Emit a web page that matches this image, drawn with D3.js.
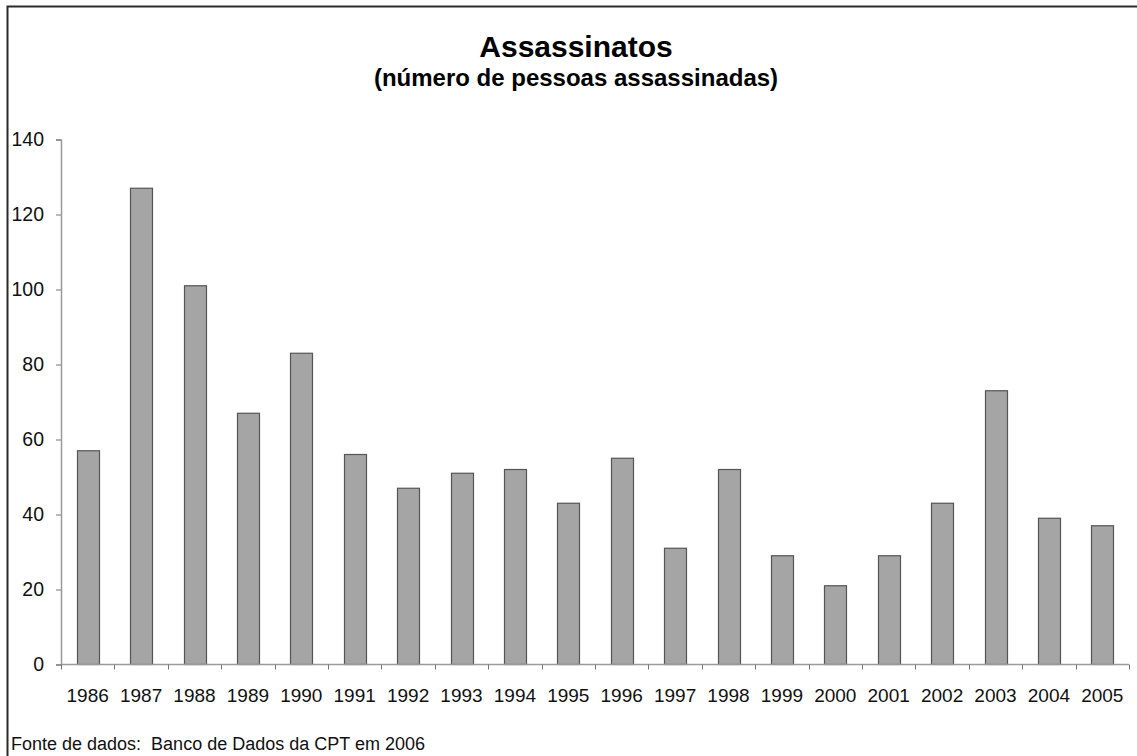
<!DOCTYPE html>
<html>
<head>
<meta charset="utf-8">
<script src="https://cdn.jsdelivr.net/npm/d3@7"></script>
<style>
  body { margin: 0; background: #fff; }
  svg { display: block; font-family: "Liberation Sans", Arial, sans-serif; }
</style>
</head>
<body>
<div id="chart"></div>
<script>
// data
var years = ["1986", "1987", "1988", "1989", "1990", "1991", "1992", "1993", "1994", "1995",
             "1996", "1997", "1998", "1999", "2000", "2001", "2002", "2003", "2004", "2005"]
var killed = [57, 127, 101, 67, 83, 56, 47, 51, 52, 43,
              55, 31, 52, 29, 21, 29, 43, 73, 39, 37]
var yTicks = [0, 20, 40, 60, 80, 100, 120, 140]

var width = 1137,
    height = 756

var svg = d3.select("#chart")
  .append("svg")
    .attr("width", width)
    .attr("height", height)

// frame (top and left edge)
svg.append("path")
  .attr("d", "M7.5,756 V6.5 H1137")
  .attr("fill", "none")
  .attr("stroke", "#2b2b2b")
  .attr("stroke-width", 2)

// titles
svg.append("text")
  .attr("x", 576).attr("y", 57)
  .attr("text-anchor", "middle")
  .style("font-size", "30px").style("font-weight", "bold")
  .text("Assassinatos")

svg.append("text")
  .attr("x", 576).attr("y", 86)
  .attr("text-anchor", "middle")
  .style("font-size", "24px").style("font-weight", "bold")
  .text("(número de pessoas assassinadas)")

// scales
var x = d3.scaleBand()
  .domain(years)
  .range([61, 1129])
  .paddingInner(0.59)
  .paddingOuter(0.295)

var y = d3.scaleLinear()
  .domain([0, 140])
  .range([664.5, 139.5])

// bars
svg.selectAll("rect.bar")
  .data(years)
  .enter()
  .append("rect")
    .attr("class", "bar")
    .attr("x", function(d) { return Math.round(x(d)) + 0.5 })
    .attr("y", function(d, i) { return y(killed[i]) })
    .attr("width", Math.round(x.bandwidth()))
    .attr("height", function(d, i) { return y(0) - y(killed[i]) })
    .attr("fill", "#a5a5a5")
    .attr("stroke", "#555")
    .attr("stroke-width", 1.2)

// y axis
var yAxis = svg.append("g")
  .attr("transform", "translate(61,0)")
  .call(d3.axisLeft(y).tickValues(yTicks).tickSize(5).tickPadding(12))
yAxis.select(".domain").attr("stroke", "#9a9a9a").attr("stroke-width", 1.5)
yAxis.selectAll(".tick line").attr("stroke", "#777")
yAxis.selectAll("text")
  .attr("fill", "#111")
  .style("font-size", "19.5px")
  .style("font-family", "'Liberation Sans', Arial, sans-serif")

// x axis line and category separators
var step = x.step()
var bounds = d3.range(years.length + 1).map(function(i) { return x.range()[0] + i * step })

svg.append("line")
  .attr("x1", 61).attr("x2", 1129)
  .attr("y1", y(0)).attr("y2", y(0))
  .attr("stroke", "#9a9a9a")
  .attr("stroke-width", 1.5)

svg.selectAll("line.xtick")
  .data(bounds)
  .enter()
  .append("line")
    .attr("class", "xtick")
    .attr("x1", function(d) { return Math.round(d) + 0.5 })
    .attr("x2", function(d) { return Math.round(d) + 0.5 })
    .attr("y1", y(0)).attr("y2", y(0) + 5)
    .attr("stroke", "#777")

svg.selectAll("text.xlabel")
  .data(years)
  .enter()
  .append("text")
    .attr("class", "xlabel")
    .attr("x", function(d) { return x(d) + x.bandwidth() / 2 })
    .attr("y", 702)
    .attr("text-anchor", "middle")
    .attr("fill", "#111")
    .style("font-size", "19px")
    .text(function(d) { return d })

// source note
svg.append("text")
  .attr("x", 11).attr("y", 750)
  .attr("fill", "#111")
  .style("font-size", "18px")
  .style("white-space", "pre")
  .text("Fonte de dados:  Banco de Dados da CPT em 2006")
</script>
</body>
</html>
